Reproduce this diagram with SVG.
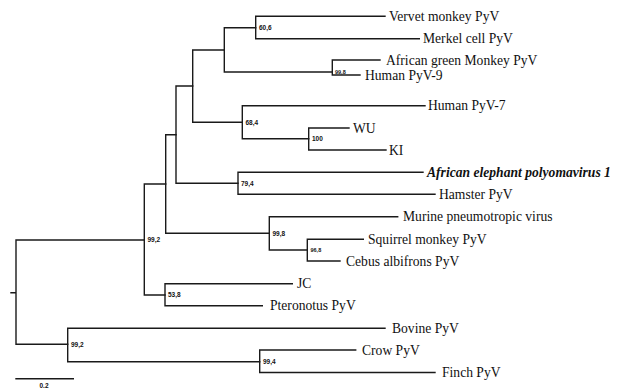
<svg xmlns="http://www.w3.org/2000/svg" width="622" height="389" viewBox="0 0 622 389">
<style>
.b{fill:none;stroke:#1a1a1a;stroke-width:1.4;stroke-linecap:square}
.t{font-family:"Liberation Serif","Times New Roman",serif;font-size:13.6px;fill:#111}
.s{font-family:"Liberation Sans",Arial,sans-serif;font-size:6.5px;font-weight:bold;fill:#111}
.s2{font-family:"Liberation Sans",Arial,sans-serif;font-size:5.5px;font-weight:bold;fill:#111}
</style>
<rect width="622" height="389" fill="#fff"/>
<g id="connectors">
<path class="b" d="M11,292.7H16M16,240V344.3M16,240H144.3M16,344.3H67.7"/>
<path class="b" d="M144.3,184V295M144.3,184H165.7M144.3,295H165"/>
<path class="b" d="M165.7,134.7V233.3M165.7,134.7H176M165.7,233.3H269.3"/>
<path class="b" d="M176,86V183.3M176,86H192.7M176,183.3H238"/>
<path class="b" d="M192.7,50V122.3M192.7,50H224.3M192.7,122.3H242.3"/>
<path class="b" d="M224.3,27.7V72M224.3,27.7H255.7M224.3,72H332.3"/>
<path class="b" d="M255.7,16.3V38.7M255.7,16.3H385M255.7,38.7H419.3"/>
<path class="b" d="M332.3,60V75M332.3,60H380M332.3,75H360"/>
<path class="b" d="M242.3,105.7V138.7M242.3,105.7H425M242.3,138.7H308.7"/>
<path class="b" d="M308.7,128V150M308.7,128H349M308.7,150H386"/>
<path class="b" d="M238,172.3V194.3M238,172.3H423M238,194.3H435"/>
<path class="b" d="M269.3,216.7V250M269.3,216.7H397.7M269.3,250H307.3"/>
<path class="b" d="M307.3,239.3V261M307.3,239.3H363.3M307.3,261H340"/>
<path class="b" d="M165,283.7V305.7M165,283.7H292.3M165,305.7H262.3"/>
<path class="b" d="M67.7,328.3V361.7M67.7,328.3H385M67.7,361.7H259.7"/>
<path class="b" d="M259.7,350V372.5M259.7,350H355.7M259.7,372.5H435"/>
<path class="b" d="M16,378.7H73.3"/>
</g>
<g id="n-vervet"><text class="t" x="389" y="20.7">Vervet monkey PyV</text></g>
<g id="n-merkel"><text class="t" x="423" y="43.2">Merkel cell PyV</text></g>
<g id="n-agm"><text class="t" x="386" y="64.5">African green Monkey PyV</text></g>
<g id="n-hpyv9"><text class="t" x="365" y="79.5">Human PyV-9</text></g>
<g id="n-hpyv7"><text class="t" x="428" y="110.2">Human PyV-7</text></g>
<g id="n-wu"><text class="t" x="353" y="132.5">WU</text></g>
<g id="n-ki"><text class="t" x="389" y="154.5">KI</text></g>
<g id="n-elephant"><text class="t" x="427" y="176.8" font-weight="bold" font-style="italic">African elephant polyomavirus 1</text></g>
<g id="n-hamster"><text class="t" x="439" y="198.8">Hamster PyV</text></g>
<g id="n-murine"><text class="t" x="403" y="221.2">Murine pneumotropic virus</text></g>
<g id="n-squirrel"><text class="t" x="368" y="243.8">Squirrel monkey PyV</text></g>
<g id="n-cebus"><text class="t" x="346" y="265.5">Cebus albifrons PyV</text></g>
<g id="n-jc"><text class="t" x="297" y="288.2">JC</text></g>
<g id="n-pteronotus"><text class="t" x="270" y="310.2">Pteronotus PyV</text></g>
<g id="n-bovine"><text class="t" x="392" y="332.8">Bovine PyV</text></g>
<g id="n-crow"><text class="t" x="362" y="354.5">Crow PyV</text></g>
<g id="n-finch"><text class="t" x="442" y="377">Finch PyV</text></g>
<g id="bootstrap">
<text class="s" x="259" y="30.3">60,6</text>
<text class="s2" x="335" y="74">99,8</text>
<text class="s" x="245.5" y="124.6">68,4</text>
<text class="s" x="312" y="141">100</text>
<text class="s" x="241" y="185.6">79,4</text>
<text class="s" x="147.5" y="242.3">99,2</text>
<text class="s" x="272.5" y="235.6">99,8</text>
<text class="s2" x="310.5" y="252">96,8</text>
<text class="s" x="168" y="297.3">53,8</text>
<text class="s" x="71" y="346.6">99,2</text>
<text class="s" x="263" y="364">99,4</text>
<text class="s" x="39.5" y="388">0.2</text>
</g>
</svg>
